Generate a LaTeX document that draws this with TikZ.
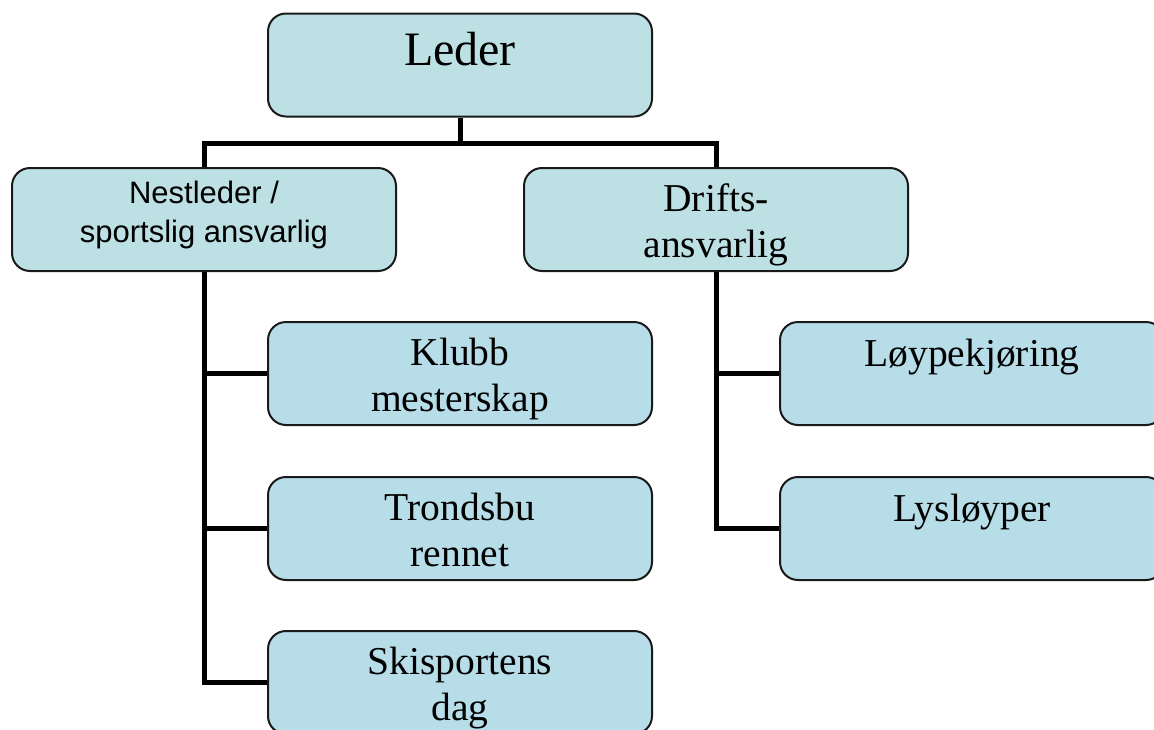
\documentclass[tikz,border=0pt]{standalone}
\usepackage{fontspec}
\setmainfont{Liberation Serif}
\newfontfamily\sansf{Liberation Sans}
\definecolor{topfill}{HTML}{BCE0E3}
\definecolor{lowfill}{HTML}{B7DDE8}
\definecolor{edge}{HTML}{1A1A1A}
\begin{document}
\begin{tikzpicture}[x=1pt,y=-1pt,
  box/.style={draw=edge,line width=2pt,rounded corners=18pt,minimum width=384pt,minimum height=103pt,inner sep=0pt},
  topbox/.style={box,fill=topfill},
  lowbox/.style={box,fill=lowfill},
  txt/.style={anchor=base,align=center,inner sep=0pt,font=\fontsize{39.5}{46}\selectfont},
  stxt/.style={anchor=base,align=center,inner sep=0pt,font=\sansf\fontsize{31}{39}\selectfont},
  conn/.style={line width=5pt,black}]
\clip (0,0) rectangle (1154,729);
\fill[white] (0,0) rectangle (1154,729);
% boxes
\node[topbox] (leder) at (460,65) {};
\node[topbox] (nest) at (204,219.5) {};
\node[topbox] (drift) at (716,219.5) {};
\node[lowbox] (klubb) at (460,373.5) {};
\node[lowbox] (trond) at (460,528.5) {};
\node[lowbox] (ski) at (460,682.5) {};
\node[lowbox] (loype) at (972,373.5) {};
\node[lowbox] (lys) at (972,528.5) {};
% texts (anchor = baseline of the last line)
\node[txt,font=\fontsize{48}{56}\selectfont] (ledert) at (460,65) {Leder};
\node[stxt] (nestt) at (204,242) {Nestleder /\\sportslig ansvarlig};
\node[txt] (driftt) at (716,257) {Drifts-\\ansvarlig};
\node[txt] (klubbt) at (460,411) {Klubb\\mesterskap};
\node[txt] (trondt) at (460,566) {Trondsbu\\rennet};
\node[txt] (skit) at (460,720) {Skisportens\\dag};
\node[txt] (loypet) at (972,366) {Løypekjøring};
\node[txt] (lyst) at (972,521) {Lysløyper};
% connectors
\coordinate (j1) at (460,143);
\draw[conn] (leder.south) -- (j1);
\draw[conn] (nest.north) |- (drift.north |- j1) -- (drift.north);
\draw[conn] (nest.south) |- (ski.west);
\draw[conn] (nest.south |- klubb.west) -- (klubb.west);
\draw[conn] (nest.south |- trond.west) -- (trond.west);
\draw[conn] (drift.south) |- (lys.west);
\draw[conn] (drift.south |- loype.west) -- (loype.west);
\end{tikzpicture}
\end{document}
